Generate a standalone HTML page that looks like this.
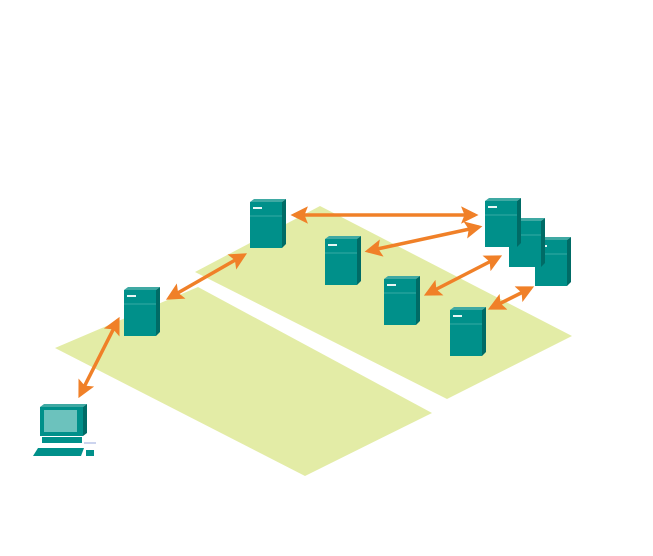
<!DOCTYPE html>
<html><head><style>body{margin:0;background:#fff}svg{display:block}</style></head><body>
<svg width="653" height="556" viewBox="0 0 653 556" xmlns="http://www.w3.org/2000/svg">
<defs>
<g id="srv">
<polygon points="0,3 4,0 36,0 32,3" fill="#3fa9a3"/>
<polygon points="32,3 36,0 36,45 32,49" fill="#006b66"/>
<rect x="0" y="3" width="32" height="46" fill="#00908a"/>
<line x1="0" y1="17" x2="32" y2="17" stroke="#36aaa4" stroke-width="1"/>
<rect x="3" y="8" width="9" height="2" fill="#e8f6f5"/>
</g>
<marker id="ah" viewBox="0 0 10 10" refX="8" refY="5" markerWidth="5" markerHeight="5" orient="auto-start-reverse"><path d="M0,0 L10,5 L0,10 L2,5z" fill="#f08028"/></marker>
</defs>
<polygon points="55,348 198,287 432,413 305,476" fill="#e3eca6"/>
<polygon points="195,272 320,206 572,336 447,399" fill="#e3eca6"/>
<use href="#srv" x="535" y="237"/>
<use href="#srv" x="509" y="218"/>
<use href="#srv" x="485" y="198"/>
<use href="#srv" x="250" y="199"/>
<use href="#srv" x="325" y="236"/>
<use href="#srv" x="124" y="287"/>
<use href="#srv" x="384" y="276"/>
<use href="#srv" x="450" y="307"/>
<g stroke="#f08028" stroke-width="3.5" marker-start="url(#ah)" marker-end="url(#ah)">
<line x1="294" y1="215" x2="475" y2="215"/>
<line x1="368" y1="251" x2="479" y2="227"/>
<line x1="427" y1="294" x2="499" y2="257"/>
<line x1="491" y1="308" x2="531" y2="288"/>
<line x1="169" y1="298" x2="244" y2="255"/>
<line x1="80" y1="395" x2="118" y2="320"/>
</g>
<g>
<polygon points="40,407 44,404 87,404 83,407" fill="#3fa9a3"/>
<polygon points="83,407 87,404 87,433 83,436" fill="#006b66"/>
<rect x="40" y="407" width="43" height="29" fill="#00908a"/>
<rect x="44" y="410" width="33" height="22" fill="#6cc2bd"/>
<rect x="42" y="437" width="40" height="6" fill="#00908a"/>
<polygon points="38,448 84,448 81,456 33,456" fill="#00908a"/>
<line x1="84" y1="443" x2="96" y2="443" stroke="#9ad" stroke-width="1"/>
<rect x="86" y="450" width="8" height="6" fill="#00908a"/>
</g>
</svg>
</body></html>
